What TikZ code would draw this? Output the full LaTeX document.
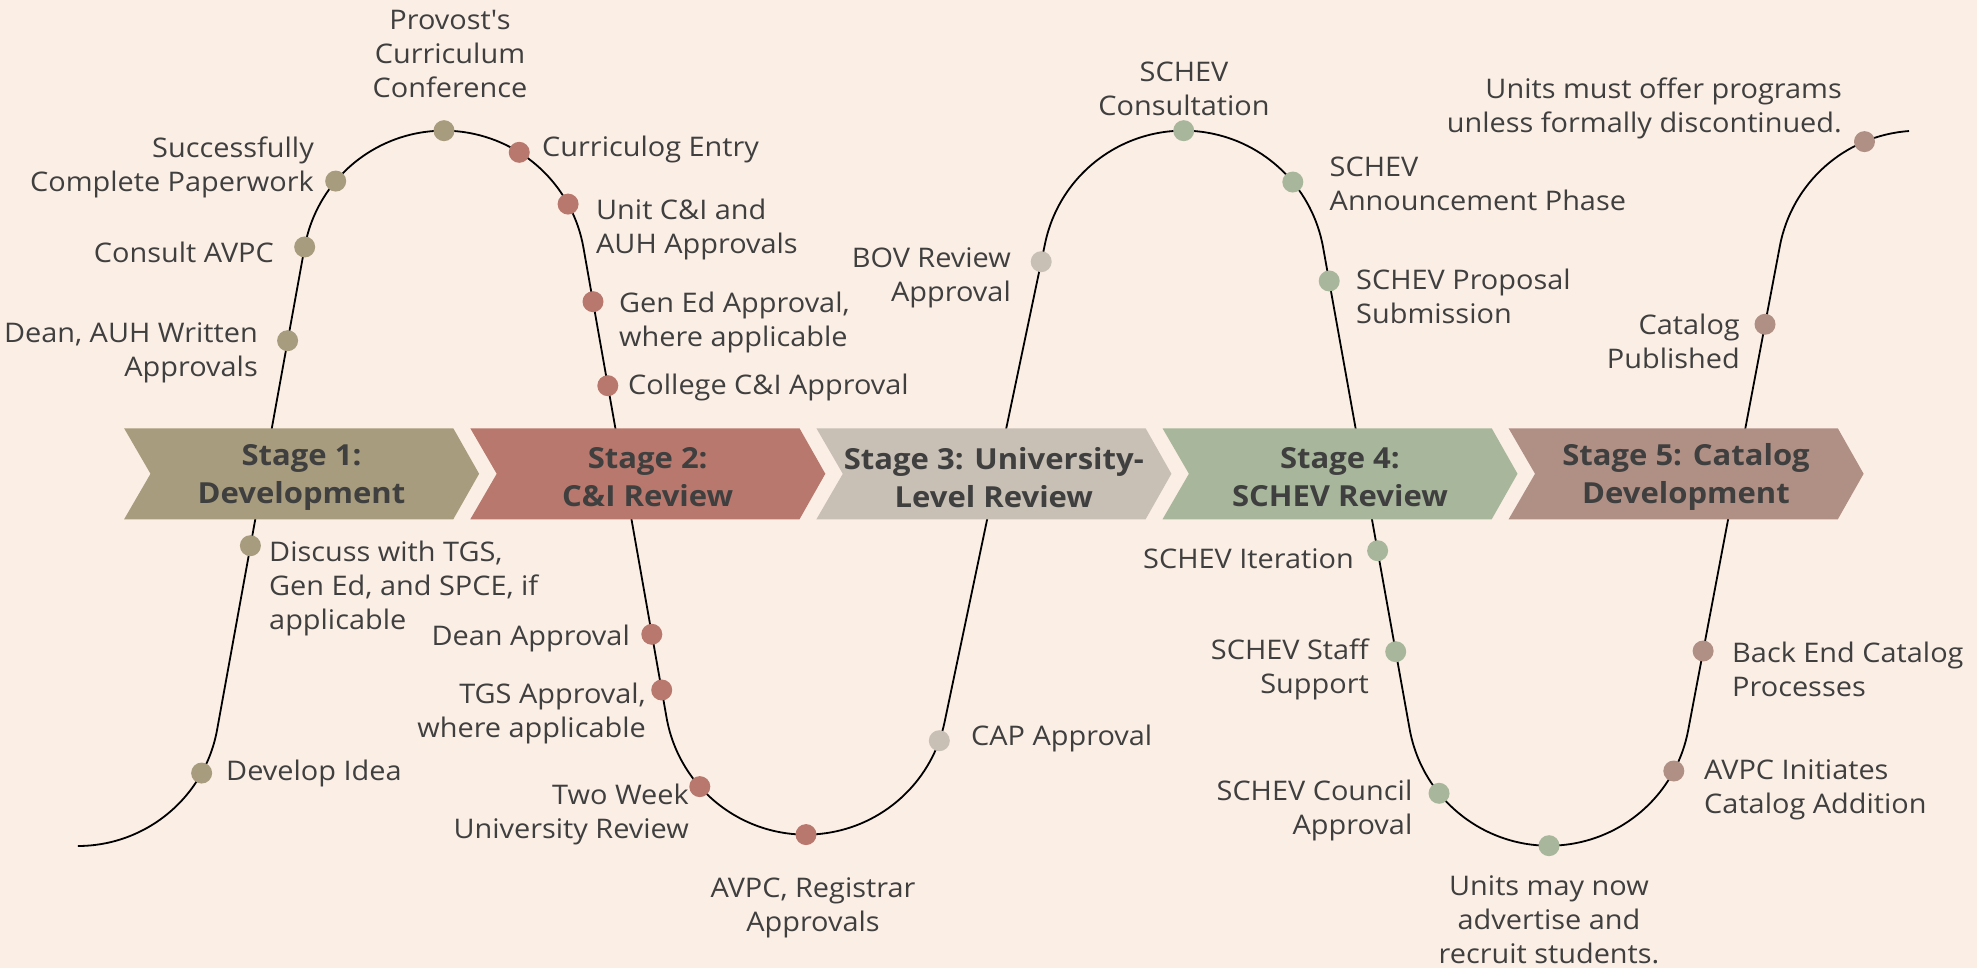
\documentclass[tikz,border=0pt]{standalone}
\usepackage{fontspec}
\setmainfont{Open Sans}[FakeStretch=1.07]
\usetikzlibrary{calc}
\definecolor{bg}{HTML}{FBEEE5}
\definecolor{sA}{HTML}{A89C7E}
\definecolor{sB}{HTML}{B8786D}
\definecolor{sC}{HTML}{C8BFB5}
\definecolor{sD}{HTML}{A8B79B}
\definecolor{sE}{HTML}{B09085}
\definecolor{txt}{HTML}{3F3F3F}
\tikzset{
  curve/.style={draw=black,line width=1.8pt},
  pdot/.style={circle,fill=#1,minimum size=21pt,inner sep=0pt},
  lbl/.style={text=txt,inner sep=0pt,yshift=-3pt,font=\fontsize{27}{34}\selectfont},
  stg/.style={text=txt,inner sep=0pt,yshift=-3.5pt,align=center,font=\fontsize{29}{38}\selectfont\bfseries},
}
\begin{document}
\begin{tikzpicture}[x=1pt,y=1pt]
\fill[bg] (0,0) rectangle (1977,968);
\useasboundingbox (0,0) rectangle (1977,968);
\def\R{141.6}
\coordinate (B0) at (77.8,263.6);
\coordinate (T1) at (444,695.7);
\coordinate (B1) at (806,275);
\coordinate (T2) at (1183.7,695.7);
\coordinate (B2) at (1549,263.9);
\coordinate (T3) at (1919,695.7);
% the wave
\draw[curve] ($(B0)+(270:\R)$) arc[start angle=270,end angle=349.72,radius=\R]
 -- ($(T1)+(169.72:\R)$) arc[start angle=169.72,end angle=10.03,radius=\R]
 -- ($(B1)+(190.03:\R)$) arc[start angle=190.03,end angle=348.15,radius=\R]
 -- ($(T2)+(168.15:\R)$) arc[start angle=168.15,end angle=10.18,radius=\R]
 -- ($(B2)+(190.18:\R)$) arc[start angle=190.18,end angle=349.28,radius=\R]
 -- ($(T3)+(169.28:\R)$) arc[start angle=169.28,end angle=94.05,radius=\R];
% stage chevrons
\fill[sA] (124.1,539.7) -- ++(329.2,0) -- ++(25.8,-45.5) -- ++(-25.8,-45.5) -- ++(-329.2,0) -- ++(26.4,45.5) -- cycle;
\fill[sB] (470.3,539.7) -- ++(329.2,0) -- ++(25.8,-45.5) -- ++(-25.8,-45.5) -- ++(-329.2,0) -- ++(26.4,45.5) -- cycle;
\fill[sC] (816.4,539.7) -- ++(329.2,0) -- ++(25.8,-45.5) -- ++(-25.8,-45.5) -- ++(-329.2,0) -- ++(26.4,45.5) -- cycle;
\fill[sD] (1162.5,539.7) -- ++(329.2,0) -- ++(25.8,-45.5) -- ++(-25.8,-45.5) -- ++(-329.2,0) -- ++(26.4,45.5) -- cycle;
\fill[sE] (1508.6,539.7) -- ++(329.2,0) -- ++(25.8,-45.5) -- ++(-25.8,-45.5) -- ++(-329.2,0) -- ++(26.4,45.5) -- cycle;
\node[stg] (s1) at (301.5,494.2) {Stage 1:\\Development};
\node[stg] (s2) at (647.7,494.2) {Stage 2:\\C\&I Review};
\node[stg] (s3) at (993.8,494.2) {Stage 3: University-\\Level Review};
\node[stg] (s4) at (1339.9,494.2) {Stage 4:\\SCHEV Review};
\node[stg] (s5) at (1686,494.2) {Stage 5: Catalog\\Development};
% dots
\node[pdot=sA] (dDev) at ($(B0)+(331:\R)$) {};
\node[pdot=sA] (dDis) at (250.4,422.3) {};
\node[pdot=sA] (dDAU) at (287.6,627.3) {};
\node[pdot=sA] (dCon) at ($(T1)+(169.7:\R)$) {};
\node[pdot=sA] (dSuc) at ($(T1)+(139.9:\R)$) {};
\node[pdot=sA] (dPro) at ($(T1)+(90:\R)$) {};
\node[pdot=sB] (dCur) at ($(T1)+(57.9:\R)$) {};
\node[pdot=sB] (dUni) at ($(T1)+(28.8:\R)$) {};
\node[pdot=sB] (dGen) at (593.0,666.3) {};
\node[pdot=sB] (dCol) at (607.8,582.3) {};
\node[pdot=sB] (dDea) at (651.8,333.7) {};
\node[pdot=sB] (dTGS) at (661.7,278) {};
\node[pdot=sB] (dTwo) at ($(B1)+(221.4:\R)$) {};
\node[pdot=sB] (dAVR) at ($(B1)+(270:\R)$) {};
\node[pdot=sC] (dCAP) at ($(B1)+(340.3:\R)$) {};
\node[pdot=sC] (dBOV) at (1041.2,706.3) {};
\node[pdot=sD] (dSCo) at ($(T2)+(90:\R)$) {};
\node[pdot=sD] (dAnn) at ($(T2)+(39.6:\R)$) {};
\node[pdot=sD] (dPrp) at (1329.2,687) {};
\node[pdot=sD] (dIte) at (1377.6,417.3) {};
\node[pdot=sD] (dSta) at (1395.7,316.3) {};
\node[pdot=sD] (dCou) at ($(B2)+(219.05:\R)$) {};
\node[pdot=sD] (dMay) at ($(B2)+(270:\R)$) {};
\node[pdot=sE] (dAVI) at ($(B2)+(331.8:\R)$) {};
\node[pdot=sE] (dBac) at (1703.1,317) {};
\node[pdot=sE] (dCat) at (1765.0,643.7) {};
\node[pdot=sE] (dMus) at ($(T3)+(112.65:\R)$) {};
% labels
\node[lbl,align=center] (lPro) at (450,916.5) {Provost\textquotesingle s\\Curriculum\\Conference};
\node[lbl,anchor=east,align=right] (lSuc) at (314,803.7) {Successfully\\Complete Paperwork};
\node[lbl,anchor=east,align=right] (lCon) at (274,718.7) {Consult AVPC};
\node[lbl,anchor=east,align=right] (lDAU) at (258,618.3) {Dean, AUH Written\\Approvals};
\node[lbl,anchor=west,align=left] (lCur) at (542,821.5) {Curriculog Entry};
\node[lbl,anchor=west,align=left] (lUni) at (596,742) {Unit C\&I and\\AUH Approvals};
\node[lbl,anchor=west,align=left] (lGen) at (619,648.4) {Gen Ed Approval,\\where applicable};
\node[lbl,anchor=west,align=left] (lCol) at (628,583.5) {College C\&I Approval};
\node[lbl,anchor=west,align=left] (lDis) at (269,382.7) {Discuss with TGS,\\Gen Ed, and SPCE, if\\applicable};
\node[lbl,anchor=west,align=left] (lDev) at (226,198) {Develop Idea};
\node[lbl,anchor=east,align=right] (lDea) at (630,333) {Dean Approval};
\node[lbl,anchor=east,align=right] (lTGS) at (646,257.2) {TGS Approval,\\where applicable};
\node[lbl,anchor=east,align=right] (lTwo) at (689,157) {Two Week\\University Review};
\node[lbl,align=center] (lAVR) at (813,62.7) {AVPC, Registrar\\Approvals};
\node[lbl,anchor=west,align=left] (lCAP) at (971,233) {CAP Approval};
\node[lbl,anchor=east,align=right] (lBOV) at (1011,693) {BOV Review\\Approval};
\node[lbl,align=center] (lSCo) at (1184,882.5) {SCHEV\\Consultation};
\node[lbl,anchor=west,align=left] (lAnn) at (1329.5,787.5) {SCHEV\\Announcement Phase};
\node[lbl,anchor=west,align=left] (lPrp) at (1356,674.3) {SCHEV Proposal\\Submission};
\node[lbl,anchor=east,align=right] (lCat) at (1740,629.7) {Catalog\\Published};
\node[lbl,anchor=east,align=right] (lMus) at (1842,863) {Units must offer programs\\unless formally discontinued.};
\node[lbl,anchor=east,align=right] (lIte) at (1354,412) {SCHEV Iteration};
\node[lbl,anchor=east,align=right] (lSta) at (1369,301.7) {SCHEV Staff\\Support};
\node[lbl,anchor=east,align=right] (lCou) at (1412.5,160.2) {SCHEV Council\\Approval};
\node[lbl,align=center] (lMay) at (1549,51) {Units may now\\advertise and\\recruit students.};
\node[lbl,anchor=west,align=left] (lBac) at (1732,301.7) {Back End Catalog\\Processes};
\node[lbl,anchor=west,align=left] (lAVI) at (1704,180.7) {AVPC Initiates\\Catalog Addition};
\end{tikzpicture}
\end{document}
